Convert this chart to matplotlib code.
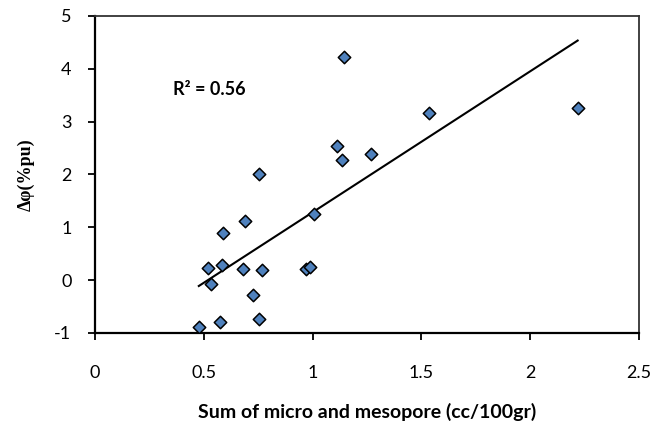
import numpy as np
import matplotlib.pyplot as plt

plt.rcParams['axes.unicode_minus'] = False

# sum of micro and mesopore (cc/100gr) vs porosity change (%pu)
pore_sum = [1.146, 1.111, 1.135, 1.268, 0.752, 0.689, 0.590, 1.008, 0.518, 0.582,
            0.680, 0.769, 0.968, 0.990, 0.535, 0.725, 0.477, 0.573, 0.754, 1.535, 2.218]
d_phi = [4.23, 2.53, 2.28, 2.39, 2.00, 1.12, 0.89, 1.26, 0.23, 0.28,
         0.21, 0.20, 0.21, 0.25, -0.08, -0.29, -0.88, -0.80, -0.73, 3.16, 3.25]
x_ticks = [0, 0.5, 1, 1.5, 2, 2.5]
y_ticks = [-1, 0, 1, 2, 3, 4, 5]

x = np.array(pore_sum)
y = np.array(d_phi)
slope, icpt = np.polyfit(x, y, 1)
xs = np.array([x.min(), x.max()])

fig = plt.figure(figsize=(6.53, 4.3), dpi=100)
ax = fig.add_axes([0.1455, 0.2256, 0.8331, 0.7372])

ax.plot(xs, slope * xs + icpt, color='black', lw=1.5, zorder=2)
ax.scatter(x, y, marker='D', s=40, facecolor='#4F81BD', edgecolor='black',
           linewidths=1.1, zorder=3)

ax.set_xlim(0, 2.5)
ax.set_ylim(-1, 5)
ax.set_xticks(x_ticks)
ax.set_xticklabels(['0', '0.5', '1', '1.5', '2', '2.5'])
ax.set_yticks(y_ticks)

for s in ['left', 'bottom']:
    ax.spines[s].set_linewidth(1.6)
    ax.spines[s].set_color('black')
for s in ['top', 'right']:
    ax.spines[s].set_linewidth(1.3)
    ax.spines[s].set_color('#333333')

ax.tick_params(axis='y', direction='out', length=5, width=1.3, pad=12,
               labelsize=13, right=False)
ax.tick_params(axis='x', direction='out', length=5, width=1.3, pad=18,
               labelsize=13, top=False)
for lab in ax.get_xticklabels() + ax.get_yticklabels():
    lab.set_fontfamily('Lato')

ax.set_xlabel('Sum of micro and mesopore (cc/100gr)', fontsize=14,
              fontweight='bold', family='Lato', labelpad=16)
ax.set_ylabel('Δφ(%pu)', fontsize=13, fontweight='bold',
              family='Liberation Serif', labelpad=14)

ax.text(0.36, 3.6, 'R² = 0.56', fontsize=13, fontweight='bold',
        family='Lato', va='center', ha='left')

fig.savefig('out.png', dpi=100)
